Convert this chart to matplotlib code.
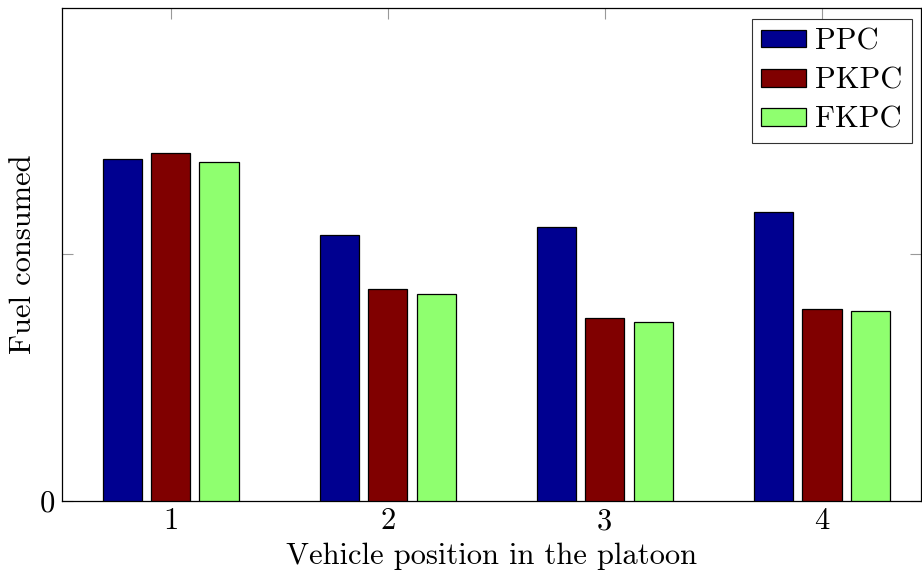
import numpy as np
import matplotlib.pyplot as plt
from matplotlib.patches import Patch

plt.rcParams['font.family'] = 'cmr10'
plt.rcParams['axes.formatter.use_mathtext'] = True
plt.rcParams['mathtext.fontset'] = 'cm'

positions = [1, 2, 3, 4]
series = ['PPC', 'PKPC', 'FKPC']
ppc = [1.385, 1.077, 1.109, 1.170]
pkpc = [1.409, 0.858, 0.741, 0.777]
fkpc = [1.372, 0.838, 0.725, 0.769]
colors = ['#000090', '#800000', '#8FFF6F']

fig = plt.figure(figsize=(9.22, 5.81), dpi=100)
ax = fig.add_axes([62/922, 1-501/581, (921-62)/922, (501-8)/581])

x = np.array(positions, dtype=float)
w = 0.18
off = 0.223
for i, (vals, c) in enumerate(zip([ppc, pkpc, fkpc], colors)):
    ax.bar(x + (i-1)*off, vals, width=w, color=c, edgecolor='black', linewidth=0.9, zorder=3)

ax.set_xlim(0.5, 4.456)
ax.set_ylim(0, 1.996)
ax.set_xticks(positions)
ax.set_xticklabels([str(p) for p in positions])
ax.set_yticks([0, 1])
ax.set_yticklabels(['0', ''])
ax.tick_params(direction='in', length=8, width=0.8, color='#999999',
               top=True, right=True, labelsize=22, pad=5)
for s in ax.spines.values():
    s.set_linewidth(0.9)

ax.set_xlabel('Vehicle position in the platoon', fontsize=22, labelpad=5)
ax.set_ylabel('Fuel consumed', fontsize=22, labelpad=2)

handles = [Patch(facecolor=c, edgecolor='black', linewidth=0.9) for c in colors]
leg = ax.legend(handles, series, loc='upper right', bbox_to_anchor=(912/922, 1-19/581),
                bbox_transform=fig.transFigure, fontsize=22, frameon=True,
                fancybox=False, edgecolor='black', handlelength=1.47, handleheight=0.5,
                handletextpad=0.3, borderaxespad=0, labelspacing=0.38, borderpad=0.3)
leg.get_frame().set_linewidth(0.8)

fig.savefig('out.png', dpi=100)
